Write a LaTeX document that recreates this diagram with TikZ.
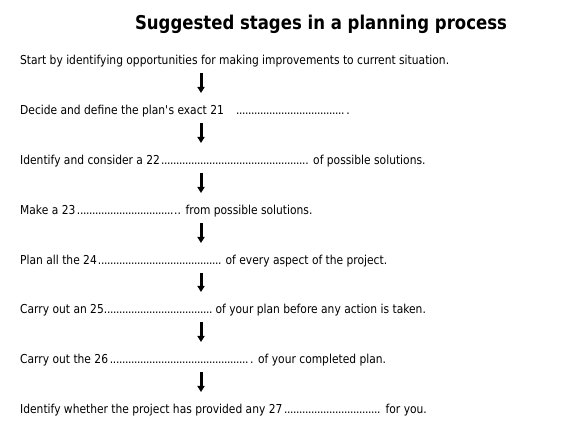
\documentclass[tikz,border=0pt]{standalone}
\usepackage{fontspec}
\setmainfont{DejaVu Sans}[FakeStretch=0.87]
\newfontfamily\titlefont{DejaVu Sans}[FakeStretch=0.87]
\usetikzlibrary{arrows.meta,calc}
% prefix, then dots filling up to an absolute width measured from the line start
\newcommand\dl[2]{\hbox to #1{#2\leaders\hbox to 3pt{\hss.\hss}\hfill}}
\begin{document}
\begin{tikzpicture}[x=1pt,y=-1pt,
  ttl/.style={anchor=base, inner sep=0pt, font=\titlefont\bfseries\fontsize{19}{22}\selectfont},
  stage/.style={anchor=base west, inner sep=0pt, font=\fontsize{12.3}{14}\selectfont},
  arr/.style={-{Triangle[width=7pt,length=6pt]}, line width=3pt}]
\useasboundingbox (0,0) rectangle (566,443);
\node[ttl] (t) at (321,30) {Suggested stages in a planning process};
\coordinate (ax) at (201,0);
\node[stage] (l1) at (20,65) {Start by identifying opportunities for making improvements to current situation.};
\node[stage] (l2) at (20,115) {\dl{326pt}{Decide and define the plan\textquotesingle s exact 21\hspace{12pt}}.};
\node[stage] (l3) at (20,165) {\dl{285pt}{Identify and consider a 22}. of possible solutions.};
\node[stage] (l4) at (20,215) {\dl{154pt}{Make a 23}.. from possible solutions.};
\node[stage] (l5) at (20,265) {\dl{202pt}{Plan all the 24} of every aspect of the project.};
\node[stage] (l6) at (20,314) {\dl{192pt}{Carry out an 25} of your plan before any action is taken.};
\node[stage] (l7) at (20,364) {\dl{230pt}{Carry out the 26}. of your completed plan.};
\node[stage] (l8) at (20,414) {\dl{362pt}{Identify whether the project has provided any 27} for you.};
\foreach \a/\b in {l1/l2,l2/l3,l3/l4,l4/l5,l5/l6,l6/l7,l7/l8}
  \draw[arr] ($(\a.base -| ax)+(0,8)$) -- ($(\b.base -| ax)+(0,-22)$);
\end{tikzpicture}
\end{document}
